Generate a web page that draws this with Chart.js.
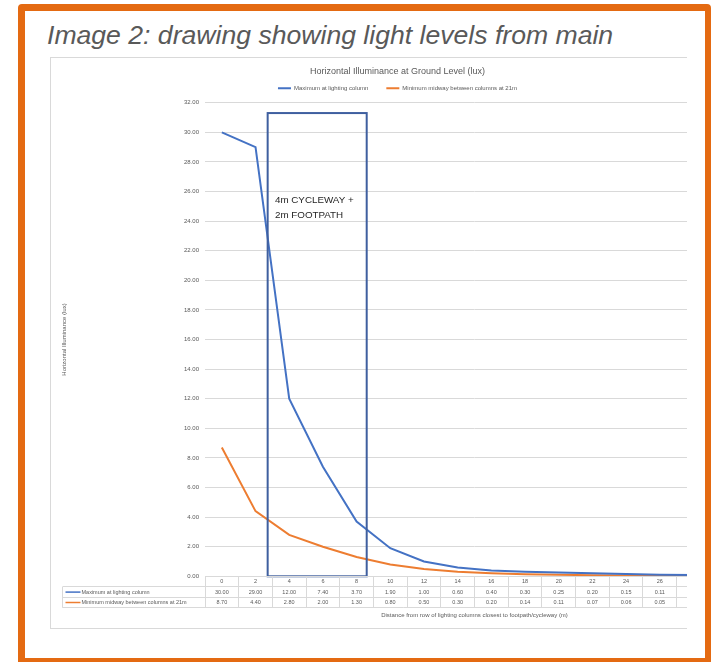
<!DOCTYPE html>
<html><head><meta charset="utf-8">
<script src="https://cdn.jsdelivr.net/npm/chart.js@4/dist/chart.umd.min.js"></script>
<style>
html,body{margin:0;padding:0;background:#fff;}
body{width:715px;height:662px;position:relative;overflow:hidden;font-family:"Liberation Sans",Arial,sans-serif;}
#frame{position:absolute;left:18px;top:4px;width:680px;height:647px;border:7px solid #E46A12;border-right-width:6px;border-radius:4px;}
#heading{position:absolute;left:47px;top:21.8px;font-size:26.6px;line-height:26.6px;font-style:italic;color:#595959;white-space:nowrap;}
#box{position:absolute;left:50px;top:57px;width:636px;height:570px;border:1px solid #d9d9d9;border-right:none;overflow:hidden;background:#fff;}
#box canvas{position:absolute;left:0;top:0;}
</style>
</head><body>
<div id="frame"></div>
<div id="heading">Image 2: drawing showing light levels from main</div>
<div id="box"><canvas id="c" width="708" height="570"></canvas></div>
<script>
// ---- data ----
const distances = ['0','2','4','6','8','10','12','14','16','18','20','22','24','26','28','30'];
const maxAtColumn = [30.00, 29.00, 12.00, 7.40, 3.70, 1.90, 1.00, 0.60, 0.40, 0.30, 0.25, 0.20, 0.15, 0.11, 0.08, 0.06];
const minMidway   = [8.70, 4.40, 2.80, 2.00, 1.30, 0.80, 0.50, 0.30, 0.20, 0.14, 0.11, 0.07, 0.06, 0.05, 0.04, 0.03];
const seriesNames = ['Maximum at lighting column', 'Minimum midway between columns at 21m'];
const chartTitle = 'Horizontal Illuminance at Ground Level (lux)';
const xTitle = 'Distance from row of lighting columns closest to footpath/cycleway (m)';
const yTitle = 'Horizontal Illuminance (lux)';
const zoneLabel = ['4m CYCLEWAY +', '2m FOOTPATH'];
const zoneStartM = 2.72, zoneEndM = 8.6, zoneTopLux = 31.3;

const BLUE = '#4472C4', ORANGE = '#ED7D31', GRID = '#d9d9d9', TXT = '#595959';
const FONT = '"Liberation Sans", Arial, sans-serif';

const legendFit = {
  id: 'legendFit',
  beforeLayout(chart) {
    const lg = chart.legend;
    if (lg && !lg._patched) {
      const orig = lg.fit;
      lg.fit = function () { orig.call(this); this.height = 35.4; };
      lg._patched = true;
    }
  }
};

const zonePlugin = {
  id: 'zone',
  afterDatasetsDraw(chart) {
    const {ctx, scales: {x, y}} = chart;
    const l = x.getPixelForValue(zoneStartM / 2);
    const r = x.getPixelForValue(zoneEndM / 2);
    const t = y.getPixelForValue(zoneTopLux);
    const b = y.getPixelForValue(0);
    ctx.save();
    ctx.strokeStyle = '#3F5F9F';
    ctx.lineWidth = 2;
    ctx.strokeRect(l, t, r - l, b - t);
    ctx.fillStyle = '#262626';
    ctx.font = '9.8px ' + FONT;
    ctx.textAlign = 'left';
    ctx.textBaseline = 'middle';
    ctx.fillText(zoneLabel[0], l + 7.3, t + 87.3);
    ctx.fillText(zoneLabel[1], l + 7.3, t + 102.3);
    ctx.restore();
  }
};

const tablePlugin = {
  id: 'table',
  afterDraw(chart) {
    const {ctx, chartArea, scales: {x}} = chart;
    const top = Math.round(chartArea.bottom) + 0.5;
    const rh = 10.4;
    const colW = x.getPixelForValue(1) - x.getPixelForValue(0);
    const left0 = chartArea.left;
    const right = chartArea.right;
    const keyLeft = 11.5;
    const n = distances.length;
    ctx.save();
    ctx.strokeStyle = GRID;
    ctx.lineWidth = 1;
    const hl = (a, b, yy) => { yy = Math.round(yy - 0.5) + 0.5; ctx.beginPath(); ctx.moveTo(a, yy); ctx.lineTo(b, yy); ctx.stroke(); };
    const vl = (xx, a, b) => { xx = Math.round(xx - 0.5) + 0.5; ctx.beginPath(); ctx.moveTo(xx, a); ctx.lineTo(xx, b); ctx.stroke(); };
    hl(left0, right, top);
    hl(keyLeft, right, top + rh);
    hl(keyLeft, right, top + 2 * rh);
    hl(keyLeft, right, top + 3 * rh);
    for (let i = 0; i <= n; i++) vl(left0 + i * colW, top, top + 3 * rh);
    vl(keyLeft, top + rh, top + 3 * rh);
    ctx.fillStyle = TXT;
    ctx.font = '5.5px ' + FONT;
    ctx.textAlign = 'center';
    ctx.textBaseline = 'middle';
    distances.forEach((d, i) => {
      const cx = x.getPixelForValue(i);
      ctx.fillText(d, cx, top + rh / 2);
      ctx.fillText(maxAtColumn[i].toFixed(2), cx, top + 1.5 * rh);
      ctx.fillText(minMidway[i].toFixed(2), cx, top + 2.5 * rh);
    });
    // keys
    [[BLUE, seriesNames[0], 1.5], [ORANGE, seriesNames[1], 2.5]].forEach(([col, name, r]) => {
      const yy = top + r * rh;
      ctx.strokeStyle = col; ctx.lineWidth = 1.5;
      ctx.beginPath(); ctx.moveTo(keyLeft + 3, yy); ctx.lineTo(keyLeft + 18, yy); ctx.stroke();
      ctx.textAlign = 'left';
      ctx.fillText(name, keyLeft + 19, yy);
    });
    ctx.restore();
  }
};

new Chart(document.getElementById('c'), {
  type: 'line',
  data: {
    labels: distances,
    datasets: [
      {label: seriesNames[0], data: maxAtColumn, borderColor: BLUE, backgroundColor: BLUE, borderWidth: 2, pointRadius: 0, tension: 0},
      {label: seriesNames[1], data: minMidway, borderColor: ORANGE, backgroundColor: ORANGE, borderWidth: 2, pointRadius: 0, tension: 0}
    ]
  },
  options: {
    responsive: false,
    animation: false,
    devicePixelRatio: 1,
    layout: {padding: {left: 0, right: 15, top: 0, bottom: 0}},
    plugins: {
      title: {display: true, text: chartTitle, color: TXT, font: {family: FONT, size: 9, weight: 'normal'}, padding: {top: 8.3, bottom: -9.8}},
      legend: {display: true, position: 'top', labels: {usePointStyle: true, pointStyle: 'line', pointStyleWidth: 13, color: TXT, padding: 18, font: {family: FONT, size: 6}}},
      tooltip: {enabled: false}
    },
    scales: {
      x: {
        type: 'category',
        offset: true,
        grid: {display: false, offset: true},
        border: {display: false},
        ticks: {display: false},
        title: {display: true, text: xTitle, color: TXT, font: {family: FONT, size: 6}, padding: {top: 0, bottom: 9.4}},
        afterFit(s) { s.height = 51.7; }
      },
      y: {
        min: 0, max: 32,
        grid: {color: GRID, drawTicks: false},
        border: {display: false},
        ticks: {stepSize: 2, padding: 6, color: TXT, font: {family: FONT, size: 6}, callback: v => Number(v).toFixed(2)},
        title: {display: true, text: yTitle, color: TXT, font: {family: FONT, size: 6}, padding: {top: 9.7, bottom: 0}},
        afterFit(s) { s.width = 154; }
      }
    }
  },
  plugins: [legendFit, zonePlugin, tablePlugin]
});
</script>
</body></html>
